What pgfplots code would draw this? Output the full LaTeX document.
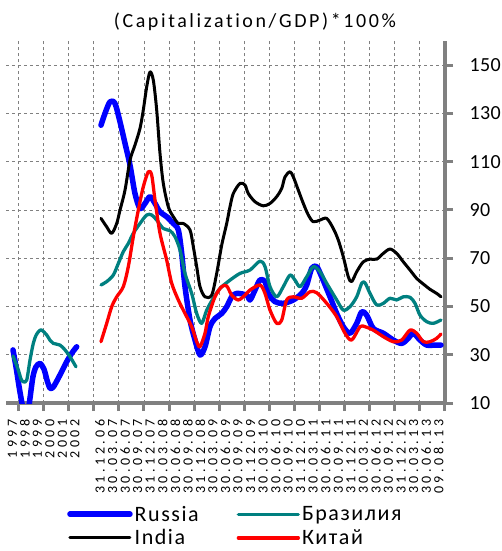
\documentclass[border=0pt]{standalone}
\usepackage{fontspec}
\setmainfont{Carlito}
\usepackage{pgfplots}
\pgfplotsset{compat=1.18}
\newfontfamily\ttlfont[LetterSpace=13,Ligatures=NoCommon]{Carlito}
\newfontfamily\legfont[LetterSpace=7,Ligatures=NoCommon]{Carlito}
\newfontfamily\xlabfont[LetterSpace=25]{Carlito}
\newfontfamily\ylabfont[LetterSpace=2]{Carlito}
\definecolor{rublue}{RGB}{0,0,255}
\definecolor{brteal}{RGB}{0,128,128}
\definecolor{cnred}{RGB}{255,0,0}
\definecolor{axgray}{RGB}{128,128,128}
\begin{document}
\begin{tikzpicture}
\path[use as bounding box] (-6bp,-148bp) rectangle (496bp,403bp);
\begin{axis}[
  at={(0,0)}, anchor=south west,
  scale only axis, width=439bp, height=362bp,
  xmin=6, xmax=445, ymin=10, ymax=160,
  axis x line*=bottom, axis y line*=right,
  axis line style={axgray, line width=3.5bp},
  tick align=outside,
  unbounded coords=jump,
  /pgf/number format/assume math mode=true,
  ytick={10,30,...,150},
  xtick={12.27,24.81,37.35,49.89,62.43,74.97,100.05,112.59,125.13,137.67,150.21,162.75,175.29,187.83,200.37,212.91,225.45,237.99,250.53,263.07,275.61,288.15,300.69,313.23,325.77,338.31,350.85,363.39,375.93,388.47,401.01,413.55,426.09,438.63},
  xticklabels={1997,1998,1999,2000,2001,2002,31.12.06,30.03.07,30.06.07,30.09.07,31.12.07,30.03.08,30.06.08,30.09.08,31.12.08,30.03.09,30.06.09,30.09.09,31.12.09,30.03.10,30.06.10,30.09.10,31.12.10,30.03.11,30.06.11,30.09.11,31.12.11,30.03.12,30.06.12,30.09.12,31.12.12,30.03.13,30.06.13,09.08.13},
  minor xtick={18.54,43.62,68.70,93.78,118.86,143.94,169.02,194.10,219.18,244.26,269.34,294.42,319.50,344.58,369.66,394.74,419.82,444.90},
  major tick length=8bp, minor tick length=8bp,
  major x tick style={draw=none},
  minor x tick style={axgray, line width=3bp},
  ytick style={axgray, line width=3bp},
  xminorgrids=true, xmajorgrids=false, ymajorgrids=true,
  major grid style={axgray, dashed, line width=0.8bp},
  minor grid style={axgray, dashed, line width=0.8bp},
  xticklabel style={rotate=90, anchor=east, font=\xlabfont\fontsize{14bp}{16bp}\selectfont},
  xticklabel shift=5bp,
  yticklabel style={anchor=west, xshift=13bp, font=\ylabfont\fontsize{20bp}{24bp}\selectfont},
  title={(Capitalization/GDP)*100\%},
  title style={font=\ttlfont\fontsize{20bp}{24bp}\selectfont, at={(0.567,1)}, anchor=center, yshift=13bp},
  legend columns=2,
  legend cell align=left,
  legend image code/.code={\draw[#1] (0bp,0bp) -- (60bp,0bp);},
  legend style={draw=none, fill=none, at={(0.139,-0.3400)}, anchor=west, inner sep=0pt,
    font=\legfont\fontsize{22bp}{26bp}\selectfont, row sep=3bp,
    /tikz/every even column/.append style={column sep=36bp}},
  every axis plot/.append style={line join=round, line cap=round, smooth},
]
\addplot[rublue, line width=5.5bp] coordinates {
(13,32) (16,25) (19,17) (21.5,11) (23,8) (26,6) (28.5,8) (30,12) (33,21) (36,25) (40,26.4) (44,24) (47,19.5) (50,16.1) (53,16.5) (56,18.5) (61.7,23) (66.7,27.1) (71.7,30.6) (76.7,33.3)
(88,nan)
(101,125.1) (105,130) (110,134.8) (115,134.1) (120,126.5) (125,117.6) (130,108.6) (135,96.8) (140,90.6) (145,92.7) (150,95.5) (155,92.7) (160,89.2) (166.7,87.2) (173.3,84.4) (178.3,81.7) (181.7,72) (185,58.2) (190,44.4) (195,36.1) (200,29.9) (205,33.3) (210,41.6) (215,45) (221.7,47.1) (226.7,49.9) (231.7,54) (236.7,55.4) (246.7,54.7) (250,52.7) (255,56.8) (260,61) (265,60.3) (268.3,55.4) (275,52) (283.3,51.3) (293.3,52.7) (301.7,55.4) (306.7,58.9) (311.7,65.8) (316.7,66.5) (321.7,62.3) (330,54) (336.7,47.1) (343.3,41.6) (350,38.9) (356.7,43) (361.7,47.8) (366.7,46.4) (373.3,40.9) (383.3,38.9) (393.3,36.1) (401.7,34.7) (408.3,36.8) (413.3,38.9) (420,36.1) (426.7,34) (435,34) (441,34)
};
\addlegendentry{Russia}
\addplot[brteal, line width=3.3bp] coordinates {
(13,29.5) (18.3,23.7) (21,20) (23.3,18.8) (26.7,19.5) (30,27.8) (33.3,34.7) (36,38) (39,39.8) (41.7,40.2) (46.7,38.2) (50,36) (53.3,34.7) (60,34) (65,32) (70,29.2) (76,25)
(88,nan)
(101,58.9) (106.7,60.3) (113.3,63) (118.3,67.8) (123.3,72.7) (128.3,76.1) (133.3,80.3) (140,84.4) (146.7,87.9) (151.7,87.9) (156.7,85.8) (163.3,82.3) (170,81.4) (175,78.9) (180,73.4) (185,63.7) (191.7,55.4) (196.7,47.1) (201.7,43) (206.7,48.5) (213.3,53.4) (220,57.5) (230,60.9) (240,63.7) (250,65.1) (260,68.8) (265,66.5) (270,58.2) (276.7,54) (283.3,58.2) (290,63) (295,60.9) (300,58.2) (306.7,62.3) (313.3,66.5) (320,64.4) (326.7,59.6) (336.7,52.7) (343.3,48.5) (350,49.9) (356.7,54) (361.7,59.6) (365,59.8) (370,55.4) (376.7,50.6) (383.3,51.3) (390,53.4) (396.7,52.7) (403.3,54) (410,53.8) (415,51.3) (420,46.4) (426.7,43.7) (433.3,43) (441,44.4)
};
\addlegendentry{Бразилия}
\addplot[black, line width=3bp] coordinates {
(101,86.5) (106.7,83) (111.7,80.3) (116.7,84.4) (120,89.9) (125,98.2) (130,110.6) (135,116.9) (140,123.8) (143.3,131.4) (146.7,141) (150,147.2) (153.3,143.8) (156.7,131.4) (160,113.4) (163.3,101) (168.3,91.3) (173.3,87.2) (178.3,84.4) (183.3,84.4) (190,81.7) (193.3,74.8) (196.7,66.5) (200,58.2) (205,54) (211.7,54.7) (216.7,63.7) (221.7,75.4) (226.7,84.4) (230,91.3) (233.3,96.8) (240,101) (245,100.3) (248.3,96.8) (255,93.4) (263.3,91.7) (270,92.7) (276.7,95.5) (281.7,98.9) (285,103.7) (290,105.8) (293.3,103.7) (298.3,98.2) (303.3,92.7) (308.3,87.9) (313.3,85.1) (320,85.8) (326.7,86.5) (333.3,82.3) (338.3,77.5) (343.3,70.6) (348.3,62.3) (351.7,60.3) (356.7,64.4) (363.3,68.5) (370,69.6) (376.7,69.6) (383.3,72) (390,73.8) (396.7,72) (403.3,68.5) (410,65.1) (416.7,61.6) (423.3,59.3) (430,57.1) (436.7,55.4) (441,54)
};
\addlegendentry{India}
\addplot[cnred, line width=3.3bp] coordinates {
(101,35.4) (106.7,43) (111.7,49.9) (116.7,54) (123.3,58.2) (128.3,66.5) (133.3,78.9) (138.3,89.9) (143.3,99.6) (148.3,105.8) (151.7,104.4) (155,94.1) (160,80.3) (166.7,69.2) (171.7,59.6) (178.3,52.7) (185,47.1) (191.7,41.6) (196.7,35.4) (200,33.3) (205,38.9) (208.3,45.8) (215,54) (221.7,58.2) (226.7,58.5) (231.7,54.7) (238.3,52.7) (245,54.7) (250,56.8) (260,58.9) (265,55.4) (270,48.5) (276.7,43) (281.7,44.4) (286.7,52.7) (293.3,54) (301.7,53.4) (310,56.1) (316.7,55.7) (326.7,51.3) (336.7,45.8) (345,38.9) (351.7,36.1) (360,41.6) (365,41.6) (373.3,40.2) (383.3,37.5) (393.3,35.4) (401.7,36.1) (410,40.2) (416.7,38.9) (423.3,35.4) (430,35.4) (436.7,36.8) (441,38.6)
};
\addlegendentry{Китай}
\end{axis}
\end{tikzpicture}
\end{document}
